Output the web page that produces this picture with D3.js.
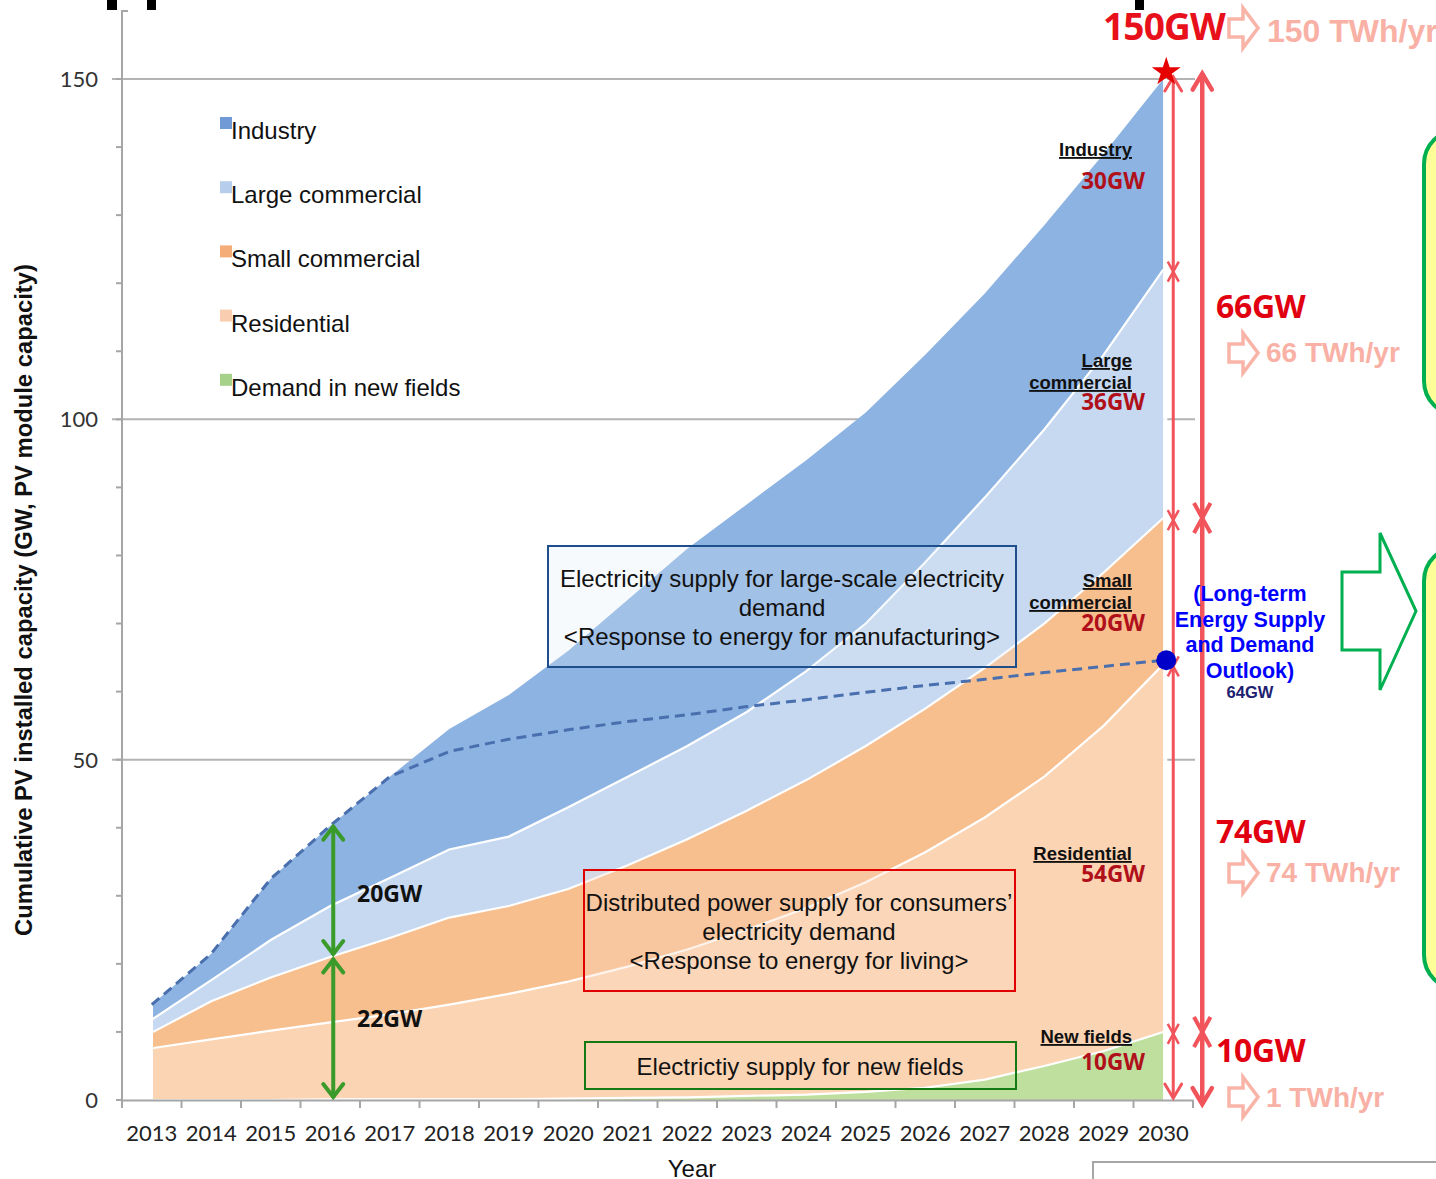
<!DOCTYPE html>
<html><head><meta charset="utf-8">
<script src="https://cdn.jsdelivr.net/npm/d3@7"></script>
<style>
html,body{margin:0;padding:0;background:#fff;}
svg{display:block;}
</style></head>
<body>
<svg id="chart" width="1436" height="1179"></svg>
<script>
// ---------------- DATA ----------------
const years = ["2013","2014","2015","2016","2017","2018","2019","2020","2021","2022","2023","2024","2025","2026","2027","2028","2029","2030"];
const newFields   = [0,0,0,0.1,0.1,0.1,0.1,0.2,0.3,0.4,0.6,0.8,1.2,1.8,3.0,5.0,7.2,10];
const residential = [7.6,8.9,10.2,11.3,12.5,13.9,15.5,17.2,19.3,21.7,24.4,27.4,30.8,34.6,38.5,42.5,47.8,54.0];
const smallComm   = [2.3,5.6,7.8,9.6,11.2,12.8,12.9,13.6,14.9,16.2,17.5,18.8,20.0,21.1,22.0,22.5,22.5,21.5];
const largeComm   = [1.9,3.1,5.5,7.5,8.8,10.0,10.2,12.0,13.0,13.7,14.5,16.0,18.0,21.5,25.0,28.5,32.0,36.5];
const industry    = [2.2,3.9,9.0,11.8,14.9,17.7,20.8,23.0,26.0,29.0,30.5,31.0,31.0,30.5,30.0,30.0,29.5,28.0];
const outlook     = [14.0,21.5,32.5,40.3,47.5,51.2,53.0,54.4,55.6,56.6,57.8,58.8,59.9,60.9,61.8,62.8,63.7,64.6];
const yTicks = [0,50,100,150];
const seriesNames = ["Industry","Large commercial","Small commercial","Residential","Demand in new fields"];
const seriesColors = ["#8db3e2","#c6d9f1","#f7be8e","#fbd4b4","#bfdf9f"];
const legendColors = ["#6f9ad6","#b7cdec","#f4ad78","#f9cdb0","#a6d18a"];
const labels2030 = [
  {name:["Industry"], gw:"30GW"},
  {name:["Large","commercial"], gw:"36GW"},
  {name:["Small","commercial"], gw:"20GW"},
  {name:["Residential"], gw:"54GW"},
  {name:["New fields"], gw:"10GW"}
];
const rightGW = [
  {gw:"66GW", twh:"66 TWh/yr"},
  {gw:"74GW", twh:"74 TWh/yr"},
  {gw:"10GW", twh:"1 TWh/yr"}
];

// ---------------- SETUP ----------------
const svg = d3.select("#chart");
const x = d3.scaleBand().domain(years).range([122,1193]);
const cx = d => x(d) + x.bandwidth()/2;
const y = d3.scaleLinear().domain([0,150]).range([1100,79]);
const ARIAL = "'Liberation Sans', Arial, sans-serif";
const BOLDF = "'Open Sans', 'Liberation Sans', sans-serif";

const table = years.map((yr,i)=>({year:yr, newFields:newFields[i], residential:residential[i], smallComm:smallComm[i], largeComm:largeComm[i], industry:industry[i]}));
const keys = ["newFields","residential","smallComm","largeComm","industry"];
const keyColor = {industry:seriesColors[0], largeComm:seriesColors[1], smallComm:seriesColors[2], residential:seriesColors[3], newFields:seriesColors[4]};
const stacked = d3.stack().keys(keys)(table);

// cut-off title fragments at top
svg.append("rect").attr("x",107).attr("y",0).attr("width",10).attr("height",10).attr("fill","#000");
svg.append("rect").attr("x",147).attr("y",0).attr("width",9).attr("height",10).attr("fill","#000");
svg.append("rect").attr("x",1135).attr("y",0).attr("width",9).attr("height",10).attr("fill","#000");

// gridlines
svg.append("g").selectAll("line").data(yTicks.filter(d=>d>0)).join("line")
  .attr("x1",112).attr("x2",1195).attr("y1",d=>y(d)).attr("y2",d=>y(d))
  .attr("stroke","#b3b3b3").attr("stroke-width",2);

// areas
const area = d3.area().x(d=>cx(d.data.year)).y0(d=>y(d[0])).y1(d=>y(d[1]));
svg.append("g").selectAll("path").data(stacked).join("path")
  .attr("d",area).attr("fill",d=>keyColor[d.key]);
// white separators
const line = d3.line().x(d=>cx(d.data.year)).y(d=>y(d[1]));
svg.append("g").selectAll("path").data(stacked.slice(0,4)).join("path")
  .attr("d",line).attr("fill","none").attr("stroke","#fff").attr("stroke-width",2.2);
// left/right white edges
svg.append("line").attr("x1",cx("2013")).attr("x2",cx("2013")).attr("y1",y(0)).attr("y2",y(stacked[4][0][1]))
  .attr("stroke","#fff").attr("stroke-width",2.5);
svg.append("line").attr("x1",cx("2030")+2).attr("x2",cx("2030")+2).attr("y1",y(0)).attr("y2",y(150))
  .attr("stroke","#fff").attr("stroke-width",4);

// y axis
const yAxisG = svg.append("g");
yAxisG.append("line").attr("x1",122).attr("x2",122).attr("y1",10).attr("y2",1100).attr("stroke","#a6a6a6").attr("stroke-width",2);
yAxisG.append("line").attr("x1",122).attr("x2",128).attr("y1",11).attr("y2",11).attr("stroke","#a6a6a6").attr("stroke-width",2);
yAxisG.selectAll("line.minor").data(d3.range(0,151,10)).join("line").attr("class","minor")
  .attr("x1",116).attr("x2",122).attr("y1",d=>y(d)).attr("y2",d=>y(d)).attr("stroke","#a6a6a6").attr("stroke-width",2);
yAxisG.selectAll("text").data(yTicks).join("text")
  .attr("x",98).attr("y",d=>y(d)+8).attr("text-anchor","end")
  .attr("font-family","Lato, 'Liberation Sans', sans-serif").attr("font-size",22).attr("fill","#333")
  .text(d=>d);

// x axis
const xAxisG = svg.append("g").attr("transform","translate(0,1100)");
xAxisG.call(d3.axisBottom(x).tickSize(0).tickPadding(0).tickFormat(""));
xAxisG.select(".domain").attr("stroke","#a6a6a6").attr("stroke-width",2);
xAxisG.selectAll("line.bt").data(years.concat(["end"])).join("line").attr("class","bt")
  .attr("x1",(d,i)=>122+i*x.bandwidth()).attr("x2",(d,i)=>122+i*x.bandwidth())
  .attr("y1",0).attr("y2",8).attr("stroke","#a6a6a6").attr("stroke-width",2);
xAxisG.selectAll("text.yl").data(years).join("text").attr("class","yl")
  .attr("x",d=>cx(d)).attr("y",41).attr("text-anchor","middle")
  .attr("font-family","Lato, 'Liberation Sans', sans-serif").attr("font-size",22).attr("fill","#222")
  .text(d=>d);
svg.append("text").attr("x",692).attr("y",1177).attr("text-anchor","middle")
  .attr("font-family",ARIAL).attr("font-size",24).attr("fill","#111").text("Year");

// y label
svg.append("text").attr("transform","translate(32,600) rotate(-90)").attr("text-anchor","middle")
  .attr("font-family",ARIAL).attr("font-weight","bold").attr("font-size",23.8).attr("fill","#111")
  .text("Cumulative PV installed capacity (GW, PV module capacity)");

// dashed outlook line
svg.append("path").datum(outlook)
  .attr("d",d3.line().x((d,i)=>cx(years[i])).y(d=>y(d)))
  .attr("fill","none").attr("stroke","#4a6fae").attr("stroke-width",3).attr("stroke-dasharray","10,6");

// legend
const leg = svg.append("g");
seriesNames.forEach((n,i)=>{
  const yy = 131 + i*64.2;
  leg.append("rect").attr("x",220).attr("y",yy-14).attr("width",12).attr("height",12).attr("fill",legendColors[i]);
  leg.append("text").attr("x",231).attr("y",yy+8).attr("font-family",ARIAL)
    .attr("font-size",24).attr("fill","#111").text(n);
});

// boxes
function box(x0,y0,w,h,stroke,fill,lines,cxText,base,lh){
  svg.append("rect").attr("x",x0).attr("y",y0).attr("width",w).attr("height",h)
    .attr("fill",fill).attr("stroke",stroke).attr("stroke-width",2);
  lines.forEach((t,i)=>svg.append("text").attr("x",cxText).attr("y",base+i*lh).attr("text-anchor","middle")
    .attr("font-family",ARIAL).attr("font-size",24).attr("fill","#111").text(t));
}
box(548,546,468,121,"#1f4e8c","rgba(225,235,248,0.25)",["Electricity supply for large-scale electricity","demand","<Response to energy for manufacturing>"],782,587,29);
box(584,870,431,121,"#e00000","rgba(252,220,200,0.3)",["Distributed power supply for consumers’","electricity demand","<Response to energy for living>"],799,911,29);
box(585,1042,431,47,"#137a13","rgba(255,255,255,0)",["Electrictiy supply for new fields"],800,1075,29);

// green double arrows at 2016
const gx = cx("2016")+3;
function dblArrow(xx,ya,yb,color,w,head){
  svg.append("line").attr("x1",xx).attr("x2",xx).attr("y1",ya).attr("y2",yb).attr("stroke",color).attr("stroke-width",w);
  svg.append("path").attr("d",`M${xx-head},${ya+head*1.4} L${xx},${ya+1} L${xx+head},${ya+head*1.4}`).attr("fill","none").attr("stroke",color).attr("stroke-width",w).attr("stroke-linecap","round");
  svg.append("path").attr("d",`M${xx-head},${yb-head*1.4} L${xx},${yb-1} L${xx+head},${yb-head*1.4}`).attr("fill","none").attr("stroke",color).attr("stroke-width",w).attr("stroke-linecap","round");
}
dblArrow(gx,y(40.3),y(21.3),"#3a9a2a",4,10);
dblArrow(gx,y(20.8),y(0)-2,"#3a9a2a",4,10);
svg.append("text").attr("x",357).attr("y",902).attr("font-family",BOLDF).attr("font-weight","bold").attr("font-size",23).attr("fill","#111").text("20GW");
svg.append("text").attr("x",357).attr("y",1027).attr("font-family",BOLDF).attr("font-weight","bold").attr("font-size",23).attr("fill","#111").text("22GW");

// 2030 labels inside areas
const labY = [[156,189],[367,410],[587,631],[860,882],[1043,1070]];
labels2030.forEach((l,i)=>{
  l.name.forEach((t,j)=>{
    svg.append("text").attr("x",1132).attr("y",labY[i][0]+j*22).attr("text-anchor","end")
      .attr("font-family",ARIAL).attr("font-weight","bold").attr("font-size",18.5)
      .attr("text-decoration","underline").attr("fill","#111").text(t);
  });
  svg.append("text").attr("x",1145).attr("y",labY[i][1]).attr("text-anchor","end")
    .attr("font-family",BOLDF).attr("font-weight","bold").attr("font-size",22.5)
    .attr("fill","#b0101a").text(l.gw);
});

// red vertical arrows
const x30 = cx("2030");
const tx1 = x30+10, tx2 = x30+39;
function vArrow(xx,ya,yb,w,h){
  svg.append("line").attr("x1",xx).attr("x2",xx).attr("y1",ya).attr("y2",yb).attr("stroke","#f2545b").attr("stroke-width",w);
  svg.append("path").attr("d",`M${xx-h*0.6},${ya+h} L${xx},${ya} L${xx+h*0.6},${ya+h}`).attr("fill","none").attr("stroke","#f2545b").attr("stroke-width",w).attr("stroke-linecap","round");
  svg.append("path").attr("d",`M${xx-h*0.6},${yb-h} L${xx},${yb} L${xx+h*0.6},${yb-h}`).attr("fill","none").attr("stroke","#f2545b").attr("stroke-width",w).attr("stroke-linecap","round");
}
function xMark(xx,yy,h,w){
  svg.append("path").attr("d",`M${xx-h*0.55},${yy-h} L${xx+h*0.55},${yy+h} M${xx+h*0.55},${yy-h} L${xx-h*0.55},${yy+h}`)
    .attr("stroke","#f2545b").attr("stroke-width",w).attr("fill","none");
}
vArrow(tx1,y(150.3),y(0)-2,3,14);
vArrow(tx2,y(150.8),y(-0.6),4.5,16);
const top2030 = stacked.map(s=>s[s.length-1][1]);
[top2030[3],top2030[2],top2030[1],top2030[0]].forEach(v=>xMark(tx1,y(v)+2,10,2.5));
[top2030[2],top2030[0]].forEach(v=>xMark(tx2,y(v),15,4));

// star
svg.append("path").attr("d",d3.symbol(d3.symbolStar,260)()).attr("transform",`translate(${x30+3},${y(150)-7})`).attr("fill","#e60000");
// blue dot
svg.append("circle").attr("cx",x30+3).attr("cy",y(outlook[outlook.length-1])).attr("r",10).attr("fill","#0000c8");

// right GW labels
svg.append("text").attr("x",1103).attr("y",40).attr("font-family",BOLDF).attr("font-weight","bold").attr("font-size",37).attr("fill","#e8101a").attr("letter-spacing",-0.8).text("150GW");
function hollowArrow(x0,yc,color){
  svg.append("path").attr("d",`M${x0},${yc-9} L${x0+14},${yc-9} L${x0+14},${yc-20} L${x0+29},${yc} L${x0+14},${yc+20} L${x0+14},${yc+9} L${x0},${yc+9} Z`)
    .attr("fill","#fff").attr("stroke",color).attr("stroke-width",3.5).attr("stroke-linejoin","miter");
}
hollowArrow(1229,28,"#f9b4a8");
svg.append("text").attr("x",1267).attr("y",42).attr("font-family",ARIAL).attr("font-weight","bold").attr("font-size",32).attr("fill","#f9b0a5").text("150 TWh/yr");
const rPos = [[318,353,362],[843,873,882],[1062,1097,1107]];
rightGW.forEach((r,i)=>{
  svg.append("text").attr("x",1216).attr("y",rPos[i][0]).attr("font-family",BOLDF).attr("font-weight","bold").attr("font-size",32).attr("letter-spacing",-0.3).attr("fill","#e00010").text(r.gw);
  hollowArrow(1229,rPos[i][1],"#f9b4a8");
  svg.append("text").attr("x",1266).attr("y",rPos[i][2]).attr("font-family",ARIAL).attr("font-weight","bold").attr("font-size",28).attr("fill","#f9b0a5").text(r.twh);
});

// outlook label
["(Long-term","Energy Supply","and Demand","Outlook)"].forEach((t,i)=>{
  svg.append("text").attr("x",1250).attr("y",601+i*25.7).attr("text-anchor","middle").attr("font-family",ARIAL)
    .attr("font-weight","bold").attr("font-size",21.5).attr("fill","#0000ff").text(t);
});
svg.append("text").attr("x",1250).attr("y",698).attr("text-anchor","middle").attr("font-family",ARIAL)
  .attr("font-weight","bold").attr("font-size",16.5).attr("fill","#202070").text("64GW");

// green big arrow
svg.append("path").attr("d","M1342,572 L1380,572 L1380,533 L1416,611 L1380,690 L1380,650 L1342,650 Z")
  .attr("fill","#fff").attr("stroke","#00b050").attr("stroke-width",3);
// green rounded boxes at right edge
svg.append("rect").attr("x",1424).attr("y",130).attr("width",80).attr("height",285).attr("rx",34)
  .attr("fill","#ffff99").attr("stroke","#00b050").attr("stroke-width",4);
svg.append("rect").attr("x",1424).attr("y",547).attr("width",80).attr("height",442).attr("rx",34)
  .attr("fill","#ffff99").attr("stroke","#00b050").attr("stroke-width",4);
// bottom-right box (cut off)
svg.append("rect").attr("x",1093).attr("y",1162).attr("width",400).attr("height",60)
  .attr("fill","#fff").attr("stroke","#a6a6a6").attr("stroke-width",2);
</script>
</body></html>
